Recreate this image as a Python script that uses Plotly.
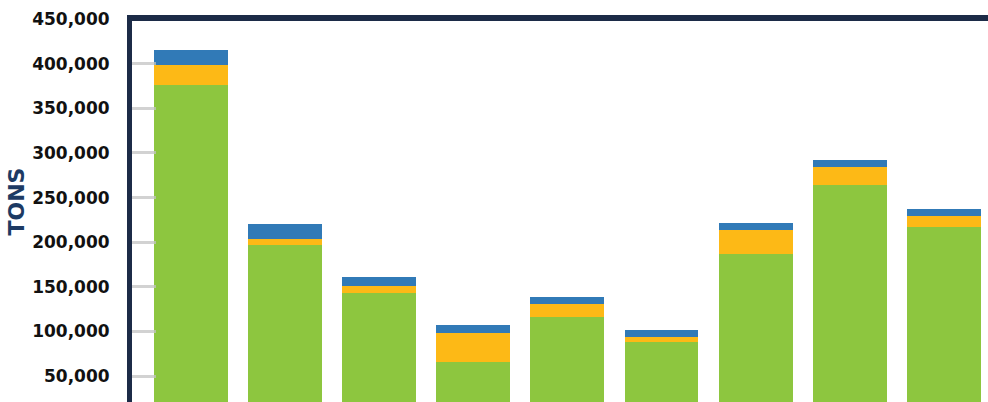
import plotly.graph_objects as go

# Stacked tonnage per period (index positions along the x axis)
periods = [0, 1, 2, 3, 4, 5, 6, 7, 8]
green_tons = [376000, 197000, 143000, 66000, 116000, 88000, 187000, 264000, 217000]
yellow_tons = [22000, 7000, 8000, 32500, 14500, 5500, 27000, 20000, 12000]
blue_tons = [17000, 16000, 10000, 9000, 8000, 8000, 8000, 8000, 8000]
tick_values = [50000, 100000, 150000, 200000, 250000, 300000, 350000, 400000, 450000]
tick_labels = ["50,000", "100,000", "150,000", "200,000", "250,000",
               "300,000", "350,000", "400,000", "450,000"]

NAVY = "#1c2b47"
BAR_W = 0.786
W, H = 988, 402
L, T = 132, 19
PLOT_W, PLOT_H = W - L, H - T

fig = go.Figure()
for vals, color in [(green_tons, "#8dc63f"), (yellow_tons, "#fdb916"), (blue_tons, "#317ab7")]:
    fig.add_trace(go.Bar(x=periods, y=vals, marker=dict(color=color, line=dict(width=0)),
                         width=BAR_W, showlegend=False))

# top frame rule spanning the whole width from the left axis line
fig.add_shape(type="line", xref="paper", yref="paper",
              x0=-5 / PLOT_W, x1=1.0, y0=1 + 1 / PLOT_H, y1=1 + 1 / PLOT_H,
              line=dict(color=NAVY, width=6), layer="above")

# vertical axis title
fig.add_annotation(text="TONS", textangle=-90, showarrow=False,
                   xref="paper", yref="paper",
                   x=(16.5 - L) / PLOT_W, y=(H - 202) / PLOT_H,
                   xanchor="center", yanchor="middle",
                   font=dict(family="DejaVu Sans", size=22, color="#1d3a63", weight=700))

fig.update_layout(
    barmode="stack",
    width=W, height=H,
    margin=dict(l=L, r=0, t=T, b=0),
    paper_bgcolor="white", plot_bgcolor="white",
    xaxis=dict(range=[-0.627, 8.47], showline=False, showticklabels=False, ticks="",
               showgrid=False, zeroline=False),
    yaxis=dict(range=[20900, 450100], tickvals=tick_values, ticktext=tick_labels,
               showline=True, linecolor=NAVY, linewidth=5,
               ticks="inside", ticklen=24, tickwidth=3, tickcolor="rgba(195,195,195,0.75)",
               ticklabelstandoff=14,
               tickfont=dict(family="DejaVu Sans", size=17, color="#111111", weight=700),
               showgrid=False, zeroline=False),
)

fig.write_html("out.html")
